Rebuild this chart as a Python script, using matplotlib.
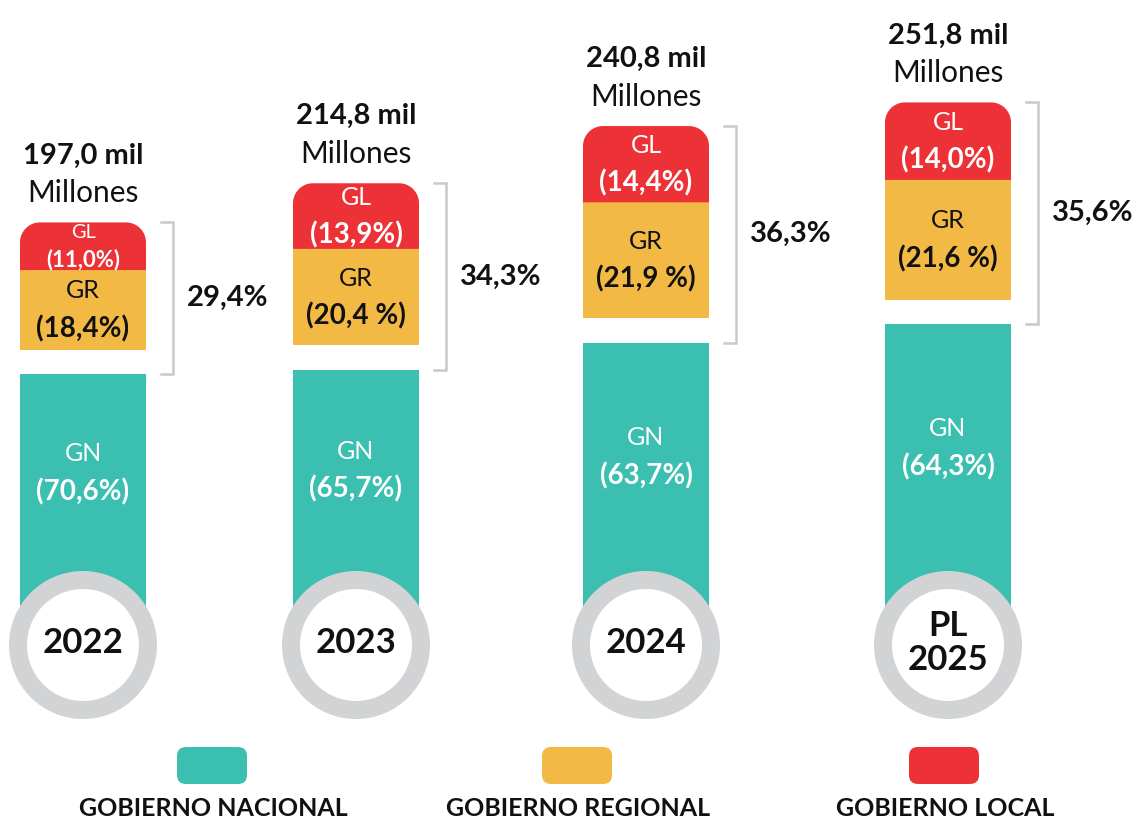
import numpy as np
import matplotlib.pyplot as plt
from matplotlib.patches import Polygon, Circle, FancyBboxPatch

plt.rcParams['font.family'] = ['Lato', 'DejaVu Sans']

# data (mil millones and shares in %)
years = ["2022", "2023", "2024", "PL\n2025"]
totals = [197.0, 214.8, 240.8, 251.8]
total_labels = ["197,0 mil", "214,8 mil", "240,8 mil", "251,8 mil"]
gn_share = [70.6, 65.7, 63.7, 64.3]
gr_share = [18.4, 20.4, 21.9, 21.6]
gl_share = [11.0, 13.9, 14.4, 14.0]
gn_labels = ["(70,6%)", "(65,7%)", "(63,7%)", "(64,3%)"]
gr_labels = ["(18,4%)", "(20,4 %)", "(21,9 %)", "(21,6 %)"]
gl_labels = ["(11,0%)", "(13,9%)", "(14,4%)", "(14,0%)"]
sub_labels = ["29,4%", "34,3%", "36,3%", "35,6%"]
legend_names = ["GOBIERNO NACIONAL", "GOBIERNO REGIONAL", "GOBIERNO LOCAL"]

TEAL = '#3BBFB0'
YELLOW = '#F3B945'
RED = '#EC3237'
RING = '#D1D3D4'
BRACKET = '#C8C9CA'
INK = '#111111'

# layout (pixels)
W, H = 1141, 822
K = 2.2          # pixels per mil millones
Y0 = 680         # pixel row of value 0
x_pos = [83, 356, 646, 948]
bar_w = 126
GAP = 11         # white gap between GN and GR, in value units
ring_y, ring_r, ring_w = 645, 74, 18


def px(p):
    return p / K


def rounded_top(xc, w, y0, y1, r):
    rx, ry = r, px(r)
    x0, x1 = xc - w / 2, xc + w / 2
    t = np.linspace(0, np.pi / 2, 20)
    right = np.column_stack([x1 - rx + rx * np.cos(t), y1 - ry + ry * np.sin(t)])
    left = np.column_stack([x0 + rx + rx * np.cos(t + np.pi / 2), y1 - ry + ry * np.sin(t + np.pi / 2)])
    verts = np.vstack([[[x0, y0], [x1, y0]], right, left])
    return Polygon(verts, closed=True)


def seg_label(x, lo, hi, name, pct, color):
    # two-line label centred in a segment, shrunk if the segment is short
    h = (hi - lo) * K
    s = min(1.0, h / 60)
    off = px(min(19, h * 0.28))
    ym = (lo + hi) / 2
    ax.text(x, ym + off, name, ha='center', va='center', color=color, fontsize=18 * s, zorder=3)
    ax.text(x, ym - off, pct, ha='center', va='center', color=color,
            fontsize=20 * s, fontweight='bold', zorder=3)


fig = plt.figure(figsize=(W / 100, H / 100), dpi=100)
ax = fig.add_axes([0, 0, 1, 1])
ax.set_xlim(0, W)
ax.set_ylim(-(H - Y0) / K, Y0 / K)
ax.axis('off')

deco = fig.add_axes([0, 0, 1, 1])
deco.set_xlim(0, W)
deco.set_ylim(H, 0)
deco.axis('off')
deco.patch.set_alpha(0)

circ_top = (Y0 - ring_y + ring_r) / K

for i, x in enumerate(x_pos):
    gn = totals[i] * gn_share[i] / 100
    gr = totals[i] * gr_share[i] / 100
    gl = totals[i] * gl_share[i] / 100
    gr_bot = gn + GAP
    gl_bot = gr_bot + gr
    top = gl_bot + gl

    ax.bar(x, gn, width=bar_w, bottom=0, color=TEAL, zorder=2)
    ax.bar(x, gr, width=bar_w, bottom=gr_bot, color=YELLOW, zorder=2)
    p = rounded_top(x, bar_w, gl_bot, top, 20)
    p.set_facecolor(RED)
    p.set_edgecolor('none')
    p.set_zorder(2)
    ax.add_patch(p)

    seg_label(x, gl_bot, top, "GL", gl_labels[i], 'white')
    seg_label(x, gr_bot, gl_bot, "GR", gr_labels[i], INK)
    seg_label(x, circ_top, gn, "GN", gn_labels[i], 'white')

    # total on top
    ax.text(x, top + px(67), total_labels[i], ha='center', va='center',
            fontsize=21, fontweight='bold', color=INK)
    ax.text(x, top + px(29), "Millones", ha='center', va='center',
            fontsize=21.5, color=INK)

    # bracket around GR + GL
    bx = x + bar_w / 2 + 27
    ax.plot([bx - 12, bx, bx, bx - 12], [top, top, gn, gn], color=BRACKET, lw=1.8,
            solid_joinstyle='miter')
    ax.text(bx + 14, (top + gn) / 2, sub_labels[i], ha='left', va='center',
            fontsize=21, fontweight='bold', color=INK)

    # year ring
    deco.add_patch(Circle((x, ring_y), ring_r, facecolor=RING, edgecolor='none', zorder=4))
    deco.add_patch(Circle((x, ring_y), ring_r - ring_w, facecolor='white', edgecolor='none', zorder=5))
    deco.text(x, ring_y - 2, years[i], ha='center', va='center', fontsize=25,
              fontweight='bold', color=INK, linespacing=1.05, zorder=6)

# legend
for name, col, cx in zip(legend_names, [TEAL, YELLOW, RED], [212, 577, 944]):
    deco.add_patch(FancyBboxPatch((cx - 35 + 9, 747 + 9), 70 - 18, 37 - 18,
                                  boxstyle='round,pad=9', facecolor=col, edgecolor='none'))
    deco.text(cx + 1, 808, name, ha='center', va='center', fontsize=18,
              fontweight='bold', color=INK)

fig.savefig('out.png', dpi=100)
